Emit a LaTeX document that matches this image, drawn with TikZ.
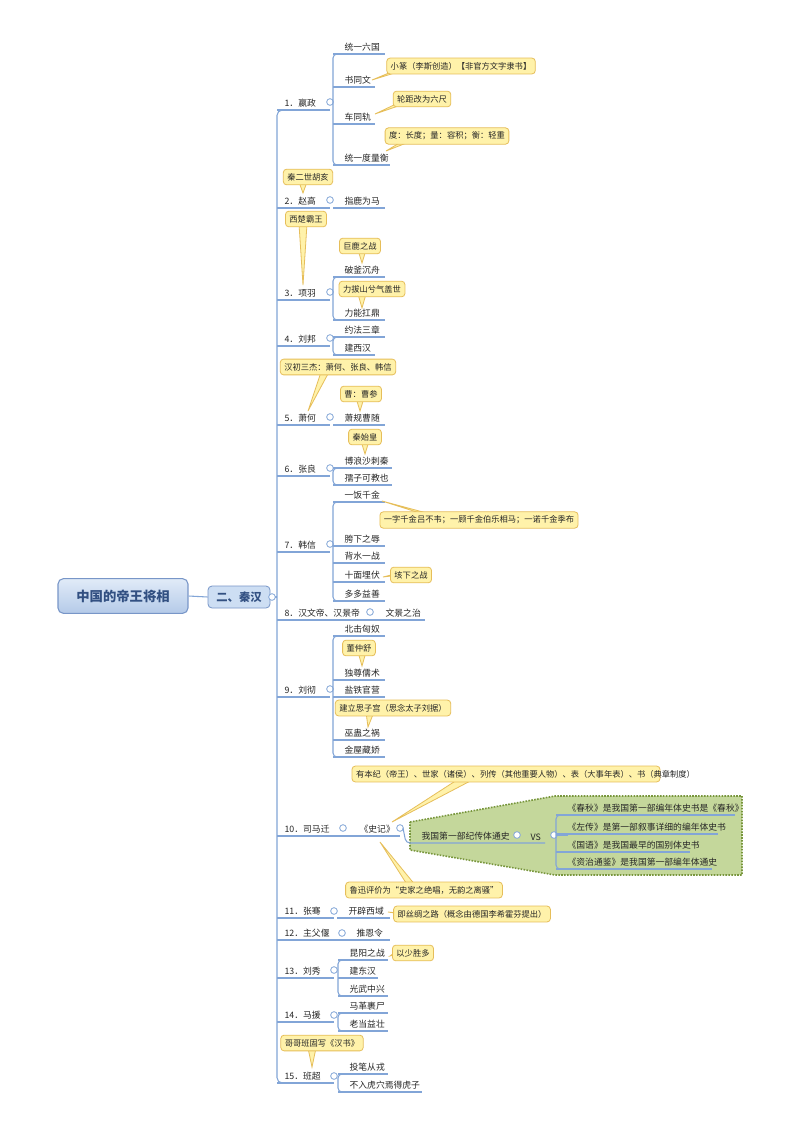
\documentclass[tikz,border=0pt]{standalone}
\usepackage{fontspec}
\setmainfont{Noto Sans CJK SC}
\definecolor{lc}{RGB}{130,165,215}
\definecolor{yf}{RGB}{255,242,170}
\definecolor{yd}{RGB}{230,190,90}
\definecolor{gf}{RGB}{196,215,155}
\definecolor{gd}{RGB}{120,150,60}
\definecolor{rt}{RGB}{50,80,130}
\definecolor{rd}{RGB}{120,150,200}
\definecolor{rtop}{RGB}{225,235,248}
\definecolor{rbot}{RGB}{180,202,232}
\definecolor{qf}{RGB}{205,222,243}
\begin{document}
\begin{tikzpicture}[x=0.75pt,y=-0.75pt,
  txt/.style={font=\fontsize{6.6}{8}\selectfont, inner sep=1pt, anchor=south west, text=black!85},
  ctxt/.style={font=\fontsize{6.2}{8}\selectfont, text=black!85},
  cbox/.style={fill=yf, draw=yd, rounded corners=2.5pt, line width=0.6pt, inner sep=3pt},
  knob/.style={circle, draw=lc, fill=white, inner sep=0pt, minimum size=5pt, line width=0.6pt}]
\useasboundingbox (0,0) rectangle (800,1132);
\fill[white] (0,0) rectangle (800,1132);
\newcommand\leaf[5]{\draw[lc,line width=0.8pt] (#2,#3) -- (#4,#3); \node[txt] (#1) at (#2+10,#3-1) {#5};}
\newcommand\callout[8]{\fill[yf,draw=yd,line width=0.6pt] (#7-4,#8) -- (#5,#6) -- (#7+4,#8) -- cycle;
  \node[cbox,ctxt] (#1) at (#2,#3) {#4};}
\newcommand\brk[3]{\draw[lc,line width=0.8pt,rounded corners=3pt] (#1+12,#2) -- (#1,#2) -- (#1,#3) -- (#1+12,#3);}
% spine
\draw[lc,line width=0.8pt,rounded corners=4pt] (290,110) -- (277,110) -- (277,1083) -- (290,1083);
% root
\node[draw=rd, line width=0.8pt, top color=rtop, bottom color=rbot, rounded corners=4pt, minimum width=97.5pt, minimum height=26pt, font=\fontsize{10}{12}\selectfont\bfseries, text=rt] (root) at (123,596) {中国的帝王将相};
\node[draw=rd, line width=0.6pt, fill=qf, rounded corners=3pt, minimum width=46.5pt, minimum height=16.5pt, font=\fontsize{8.5}{10}\selectfont\bfseries, text=rt] (qh) at (239,597) {二、秦汉};
\draw[lc,line width=0.8pt] (root.east) -- (qh.west);
\draw[lc,line width=0.8pt] (qh.east) -- (277,597);
\node[knob] (k0) at (272,597) {};
\foreach \u/\e in {110/330,208/330,300/330,346/330,425/330,476/330,552/330,620/425,697/330,836/343,918/334,940/342,978/334,1022/334,1083/334}{\draw[lc,line width=0.8pt] (277,\u) -- (\e,\u);}
\node[txt] (a1) at (283,109) {1．嬴政}; \node[knob] at (330,102) {};
\node[txt] (a2) at (283,207) {2．赵高}; \node[knob] at (330,200) {};
\node[txt] (a3) at (283,299) {3．项羽}; \node[knob] at (330,292) {};
\node[txt] (a4) at (283,345) {4．刘邦}; \node[knob] at (330,338) {};
\node[txt] (a5) at (283,424) {5．萧何}; \node[knob] at (330,417) {};
\node[txt] (a6) at (283,475) {6．张良}; \node[knob] at (330,468) {};
\node[txt] (a7) at (283,551) {7．韩信}; \node[knob] at (330,544) {};
\node[txt] (a8) at (283,619) {8．汉文帝、汉景帝}; \node[knob] at (370,612) {};
\node[txt] (a9) at (283,696) {9．刘彻}; \node[knob] at (330,689) {};
\node[txt] (a10) at (283,835) {10．司马迁}; \node[knob] at (343,828) {};
\node[txt] (a11) at (283,917) {11．张骞}; \node[knob] at (334,911) {};
\node[txt] (a12) at (283,939) {12．主父偃}; \node[knob] at (342,933) {};
\node[txt] (a13) at (283,977) {13．刘秀}; \node[knob] at (334,970) {};
\node[txt] (a14) at (283,1021) {14．马援}; \node[knob] at (334,1015) {};
\node[txt] (a15) at (283,1082) {15．班超}; \node[knob] at (334,1076) {};
% 1
\brk{333}{54}{165}
\leaf{b11}{333}{54}{385}{统一六国}
\leaf{b12}{333}{87}{375}{书同文}
\leaf{b13}{333}{124}{375}{车同轨}
\leaf{b14}{333}{165}{390}{统一度量衡}
\callout{c11}{461}{66}{小篆（李斯创造）【非官方文字隶书】}{372}{80}{400}{70}
\callout{c12}{422}{99}{轮距改为六尺}{375}{114}{400}{104}
\callout{c13}{447}{136}{度：长度；量：容积；衡：轻重}{386}{151}{405}{142}
% 2
\leaf{b21}{333}{208}{385}{指鹿为马}
\callout{c21}{308}{177}{秦二世胡亥}{303}{193}{303}{182}
% 3
\brk{333}{277}{320}
\leaf{b31}{333}{277}{385}{破釜沉舟}
\leaf{b32}{333}{320}{385}{力能扛鼎}
\callout{c31}{306}{219}{西楚霸王}{303}{285}{303}{224}
\callout{c32}{360}{246}{巨鹿之战}{362}{263}{362}{250}
\callout{c33}{372}{289}{力拔山兮气盖世}{362}{308}{362}{294}
% 4
\brk{333}{337}{355}
\leaf{b41}{333}{337}{385}{约法三章}
\leaf{b42}{333}{355}{375}{建西汉}
% 5
\leaf{b51}{333}{425}{385}{萧规曹随}
\callout{c51}{338}{367}{汉初三杰：萧何、张良、韩信}{308}{411}{325}{372}
\callout{c52}{361}{394}{曹：曹参}{360}{411}{360}{398}
% 6
\brk{333}{468}{485}
\leaf{b61}{333}{468}{392}{博浪沙刺秦}
\leaf{b62}{333}{485}{392}{孺子可教也}
\callout{c61}{365}{437}{秦始皇}{365}{454}{365}{441}
% 7
\brk{333}{502}{601}
\leaf{b71}{333}{502}{385}{一饭千金}
\leaf{b72}{333}{546}{385}{胯下之辱}
\leaf{b73}{333}{563}{385}{背水一战}
\leaf{b74}{333}{582}{385}{十面埋伏}
\leaf{b75}{333}{601}{385}{多多益善}
\callout{c71}{479}{520}{一字千金吕不韦；一顾千金伯乐相马；一诺千金季布}{382}{501}{430}{515}
\callout{c72}{411}{575}{垓下之战}{383}{577}{395}{575}
% 8
\node[txt] (b81) at (384,619) {文景之治};
% 9
\brk{333}{636}{757}
\leaf{b91}{333}{636}{385}{北击匈奴}
\leaf{b92}{333}{680}{385}{独尊儒术}
\leaf{b93}{333}{697}{385}{盐铁官营}
\leaf{b94}{333}{740}{385}{巫蛊之祸}
\leaf{b95}{333}{757}{385}{金屋藏娇}
\callout{c91}{359}{648}{董仲舒}{362}{666}{362}{652}
\callout{c92}{393}{708}{建立思子宫（思念太子刘据）}{368}{727}{370}{712}
% 10
\fill[gf, draw=gd, densely dotted, line width=1.2pt] (410,822) -- (555,796) -- (742,796) -- (742,875) -- (555,875) -- (410,850) -- cycle;
\node[txt] (b101) at (358,835) {《史记》}; \node[knob] at (400,828) {};
\draw[lc,line width=0.8pt] (343,836) -- (400,836);
\draw[lc,line width=0.8pt,rounded corners=3pt] (403,828) -- (406,843) -- (545,843);
\node[txt] (b102) at (420,842) {我国第一部纪传体通史}; \node[knob] at (517,835) {};
\node[txt] (vs) at (529,842) {VS}; \node[knob] at (554,835) {};
\brk{556}{815}{869}
\leaf{v1}{556}{815}{735}{《春秋》是我国第一部编年体史书是《春秋》}
\leaf{v2}{556}{834}{718}{《左传》是第一部叙事详细的编年体史书}
\leaf{v3}{556}{852}{690}{《国语》是我国最早的国别体史书}
\leaf{v4}{556}{869}{712}{《资治通鉴》是我国第一部编年体通史}
\draw[lc,line width=0.8pt] (556,835) -- (568,835);
\fill[yf,draw=yd,line width=0.6pt] (460,778) -- (392,822) -- (476,778) -- cycle;
\node[cbox,ctxt,align=left,text width=225pt] (c101) at (506,774) {有本纪（帝王）、世家（诸侯）、列传（其他重要人物）、表（大事年表）、书（典章制度）};
\callout{c102}{424}{890}{鲁迅评价为“史家之绝唱，无韵之离骚”}{380}{842}{412}{886}
% 11
\leaf{b111}{337}{918}{390}{开辟西域}
\callout{c111}{472}{914}{即丝绸之路（概念由德国李希霍芬提出）}{388}{912}{405}{914}
% 12
\node[txt] (b121) at (355,939) {推恩令};
\draw[lc,line width=0.8pt] (342,940) -- (390,940);
% 13
\brk{338}{960}{996}
\leaf{b131}{338}{960}{388}{昆阳之战}
\leaf{b132}{338}{978}{378}{建东汉}
\leaf{b133}{338}{996}{388}{光武中兴}
\callout{c131}{413}{953}{以少胜多}{390}{956}{398}{953}
% 14
\brk{338}{1013}{1031}
\leaf{b141}{338}{1013}{388}{马革裹尸}
\leaf{b142}{338}{1031}{388}{老当益壮}
% 15
\brk{338}{1074}{1092}
\leaf{b151}{338}{1074}{388}{投笔从戎}
\leaf{b152}{338}{1092}{422}{不入虎穴焉得虎子}
\callout{c151}{322}{1043}{哥哥班固写《汉书》}{312}{1067}{312}{1048}
\end{tikzpicture}
\end{document}
